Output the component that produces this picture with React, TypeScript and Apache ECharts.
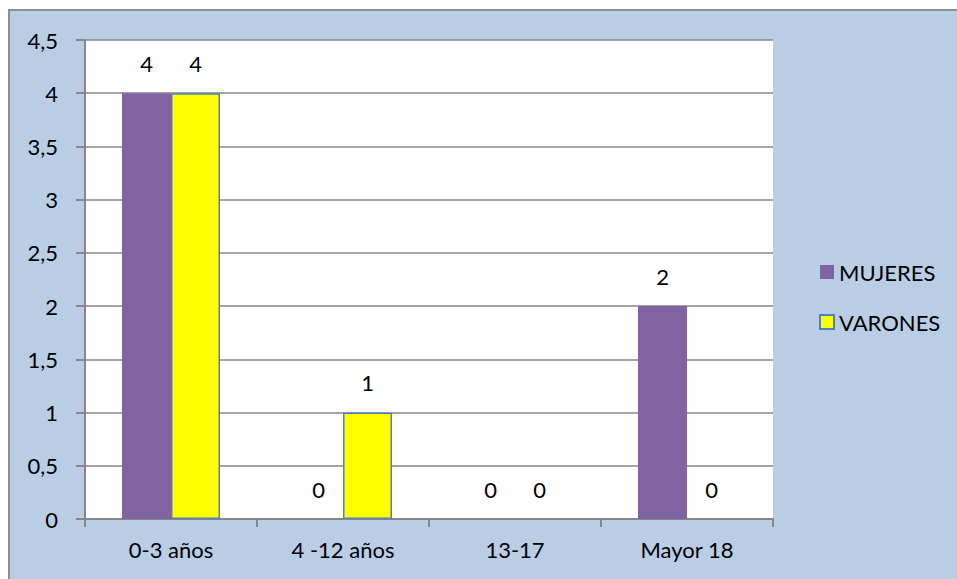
import React, { useEffect, useRef } from "react";
import * as echarts from "echarts";

const categories = ["0-3 años", "4 -12 años", "13-17", "Mayor 18"];
const mujeres = [4, 0, 0, 2];
const varones = [4, 1, 0, 0];
const seriesNames = ["MUJERES", "VARONES"];

const FONT = "Lato";

export default function App() {
  const ref = useRef<HTMLDivElement>(null);
  useEffect(() => {
    if (!ref.current) return;
    const chart = echarts.init(ref.current, undefined, { renderer: "svg" });
    const label = {
      show: true,
      position: "top" as const,
      distance: 19,
      color: "#000",
      fontFamily: FONT,
      fontSize: 22,
    };
    chart.setOption({
      animation: false,
      textStyle: { fontFamily: FONT },
      grid: { left: 85, top: 40, width: 688, height: 479, backgroundColor: "#fff", show: true, borderWidth: 0 },
      legend: {
        orient: "vertical",
        left: 814,
        top: 256,
        itemWidth: 14,
        itemHeight: 14,
        itemGap: 28,
        icon: "rect",
        textStyle: { fontFamily: FONT, fontSize: 22, color: "#000" },
        data: seriesNames,
      },
      xAxis: {
        type: "category",
        data: categories,
        axisLine: { lineStyle: { color: "#868686", width: 2 } },
        axisTick: { show: true, length: 8, lineStyle: { color: "#868686", width: 2 } },
        axisLabel: { color: "#000", fontFamily: FONT, fontSize: 22, margin: 19 },
      },
      yAxis: {
        type: "value",
        min: 0,
        max: 4.5,
        interval: 0.5,
        axisLine: { show: true, lineStyle: { color: "#868686", width: 2 } },
        axisTick: { show: true, length: 9, lineStyle: { color: "#868686", width: 2 } },
        splitLine: { lineStyle: { color: "#868686", width: 1.5 } },
        axisLabel: {
          color: "#000",
          fontFamily: FONT,
          fontSize: 22,
          margin: 27,
          formatter: (v: number) => String(v).replace(".", ","),
        },
      },
      series: [
        {
          name: seriesNames[0],
          type: "bar",
          data: mujeres,
          barWidth: 49,
          barGap: "0%",
          itemStyle: { color: "#8064A2" },
          label,
        },
        {
          name: seriesNames[1],
          type: "bar",
          data: varones.map((v) => (v === 0 ? { value: v, itemStyle: { borderWidth: 0 } } : v)),
          barWidth: 49,
          barGap: "0%",
          itemStyle: { color: "#FFFF00", borderColor: "#4F81BD", borderWidth: 1.5 },
          label,
        },
      ],
    });
    return () => chart.dispose();
  }, []);
  return (
    <div style={{ position: "fixed", left: 0, top: 0, width: 957, height: 579, background: "#fff" }}>
      <div
        style={{
          position: "absolute",
          left: 8,
          top: 9,
          width: 1000,
          height: 620,
          background: "#B9CDE5",
          borderLeft: "2px solid #8E8E8E",
          borderTop: "2px solid #8E8E8E",
        }}
      />
      <div ref={ref} style={{ position: "absolute", left: 0, top: 0, width: 957, height: 579 }} />
    </div>
  );
}
